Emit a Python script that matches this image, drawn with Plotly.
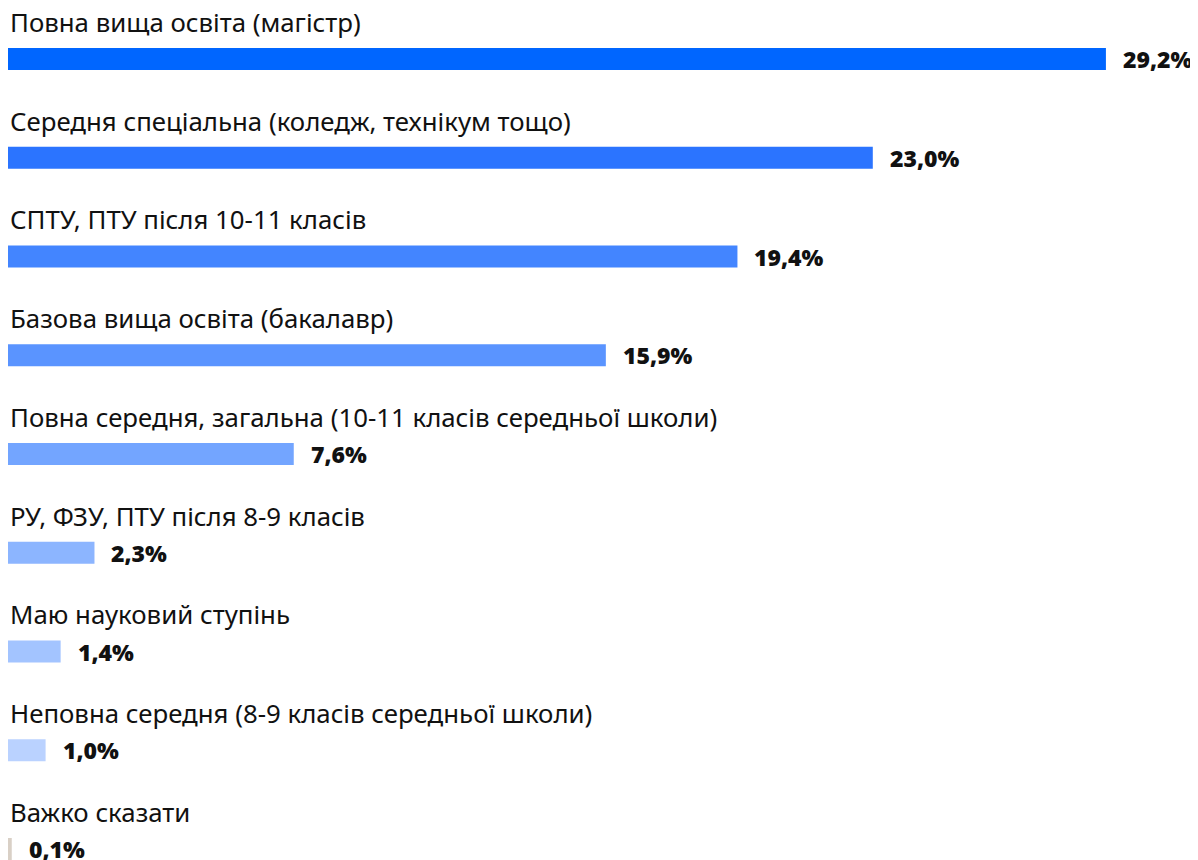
import plotly.graph_objects as go

categories = [
    "Повна вища освіта (магістр)",
    "Середня спеціальна (коледж, технікум тощо)",
    "СПТУ, ПТУ після 10-11 класів",
    "Базова вища освіта (бакалавр)",
    "Повна середня, загальна (10-11 класів середньої школи)",
    "РУ, ФЗУ, ПТУ після 8-9 класів",
    "Маю науковий ступінь",
    "Неповна середня (8-9 класів середньої школи)",
    "Важко сказати",
]
values = [29.2, 23.0, 19.4, 15.9, 7.6, 2.3, 1.4, 1.0, 0.1]
value_labels = ["29,2%", "23,0%", "19,4%", "15,9%", "7,6%", "2,3%", "1,4%", "1,0%", "0,1%"]
colors = ["#0066FF", "#2B74FF", "#4385FF", "#5A94FF", "#73A5FF",
          "#8CB5FF", "#A3C4FF", "#BAD2FF", "#D9D0C6"]

pos = list(range(len(categories)))

fig = go.Figure()
fig.add_trace(go.Bar(
    x=values, y=pos, orientation="h",
    marker=dict(color=colors, line=dict(width=0)),
    width=0.223, hoverinfo="skip",
))

font_family = "'Noto Sans', 'Open Sans', sans-serif"
for i, (c, v, lab) in enumerate(zip(categories, values, value_labels)):
    fig.add_annotation(x=0, y=i - 0.375, text=c, showarrow=False,
                       xanchor="left", yanchor="middle", xshift=0,
                       font=dict(family=font_family, size=25.8, color="#111111"))
    fig.add_annotation(x=v, y=i, text=lab, showarrow=False,
                       xanchor="left", yanchor="middle", xshift=15,
                       font=dict(family=font_family, size=23, color="#111111", weight=900))

fig.update_layout(
    width=1190, height=852,
    margin=dict(l=0, r=0, t=0, b=0),
    paper_bgcolor="white", plot_bgcolor="white",
    showlegend=False,
    xaxis=dict(range=[0, 1190 / 37.6], visible=False),
    yaxis=dict(range=[8 + 11 / 98.75, -51 / 98.75], visible=False),
)

fig.write_html("out.html")
